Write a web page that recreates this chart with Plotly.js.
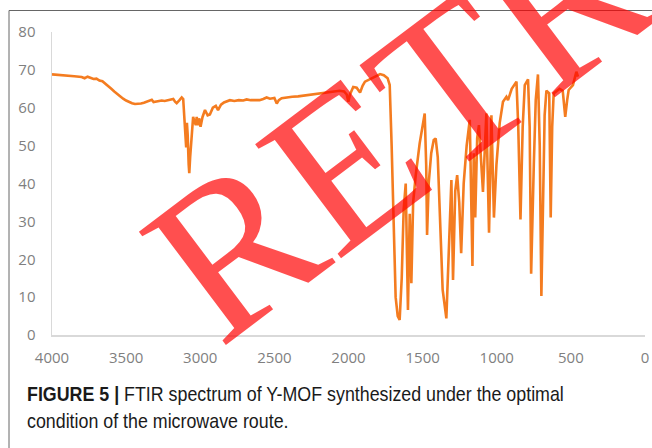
<!DOCTYPE html>
<html>
<head>
<meta charset="utf-8">
<script src="https://cdn.plot.ly/plotly-3.0.1.min.js"></script>
<style>
  html, body { margin: 0; padding: 0; background: #ffffff; }
  #chart { width: 652px; height: 448px; }
</style>
</head>
<body>
<div id="chart"></div>
<script>
// Wavenumber (cm-1)
const wavenumber = [
  4000, 3950, 3900, 3850, 3800, 3780, 3760, 3740, 3720, 3700, 3680, 3660, 3640, 3620, 3600,
  3580, 3560, 3540, 3520, 3500, 3480, 3460, 3440, 3420, 3400, 3380, 3360, 3340, 3327, 3315,
  3300, 3280, 3260, 3240, 3220, 3200, 3182, 3170, 3159, 3140, 3125, 3115, 3108, 3100, 3095,
  3090, 3085, 3078, 3074, 3068, 3062, 3055, 3048, 3040, 3030, 3024, 3015, 3008, 2998, 2985,
  2968, 2950, 2935, 2915, 2895, 2880, 2860, 2840, 2820, 2800, 2770, 2740, 2710, 2687, 2660,
  2630, 2600, 2575, 2552, 2530, 2500, 2484, 2470, 2451, 2420, 2380, 2340, 2300, 2260, 2230,
  2200, 2160, 2125, 2090, 2060, 2030, 2012, 2001, 1990, 1968, 1945, 1922, 1905, 1889, 1860,
  1821, 1800, 1787, 1762, 1736, 1722, 1709, 1695, 1682, 1668, 1655, 1641, 1628, 1614, 1599,
  1587, 1576, 1564, 1547, 1520, 1500, 1486, 1476, 1470, 1459, 1442, 1425, 1412, 1398, 1381,
  1365, 1340, 1324, 1306, 1295, 1280, 1267, 1253, 1240, 1223, 1203, 1182, 1164, 1155, 1145,
  1132, 1120, 1093, 1070, 1052, 1036, 1019, 1002, 980, 958, 935, 924, 899, 867, 855,
  840, 825, 811, 789, 778, 768, 750, 737, 722, 710, 699, 687, 677, 665, 646,
  636, 626, 616, 576, 555, 538, 525, 515, 486, 463, 452
];
// Transmittance (%)
const transmittance = [
  68.8, 68.7, 68.5, 68.3, 68.1, 67.8, 68.2, 67.8, 67.6, 67.7, 67.2, 67.0, 66.4, 65.7, 65.0,
  64.3, 63.6, 63.0, 62.4, 61.9, 61.5, 61.2, 61.0, 61.0, 61.1, 61.3, 61.6, 61.9, 62.1, 61.5,
  61.6, 61.7, 61.9, 61.8, 62.0, 62.1, 62.3, 61.6, 61.2, 62.0, 62.7, 62.3, 58.0, 50.0, 49.5,
  56.0, 53.0, 45.0, 42.7, 47.0, 50.7, 55.0, 57.6, 56.5, 55.4, 57.6, 55.4, 57.2, 55.0, 57.5,
  59.4, 58.0, 58.2, 60.0, 60.5, 59.4, 60.8, 61.4, 61.7, 62.0, 61.8, 62.0, 61.9, 62.2, 62.0,
  62.1, 62.0, 62.3, 62.7, 62.4, 62.6, 61.1, 62.0, 62.5, 62.7, 62.9, 63.0, 63.2, 63.4, 63.6,
  63.7, 64.0, 64.2, 64.4, 64.5, 64.3, 63.5, 61.6, 63.5, 65.5, 65.3, 64.0, 65.8, 66.9, 67.4,
  68.2, 68.6, 68.9, 68.6, 67.8, 66.0, 50.0, 25.0, 10.0, 5.0, 4.0, 15.0, 33.0, 40.0, 6.6,
  32.0, 13.7, 35.0, 42.0, 50.6, 55.0, 58.5, 45.0, 26.4, 40.0, 48.0, 51.5, 51.9, 47.0, 30.0,
  12.0, 4.4, 20.0, 40.9, 14.5, 38.0, 42.2, 35.0, 21.6, 40.0, 50.0, 56.8, 18.2, 48.0, 31.0,
  52.0, 55.4, 37.8, 58.5, 27.0, 58.0, 31.0, 45.0, 56.0, 61.6, 62.9, 62.0, 65.0, 66.9, 55.0,
  30.5, 55.0, 66.0, 67.5, 55.0, 16.2, 45.0, 62.0, 68.8, 50.0, 10.3, 40.0, 58.0, 64.5, 63.8,
  31.0, 55.0, 63.8, 65.0, 64.5, 57.6, 62.0, 64.7, 66.0, 69.5, 68.2
];
const xTicks = [4000, 3500, 3000, 2500, 2000, 1500, 1000, 500, 0];
const yTicks = [0, 10, 20, 30, 40, 50, 60, 70, 80];
const watermarkText = "RETRACTED";
const captionBold = "FIGURE 5 |";
const captionLine1 = " FTIR spectrum of Y-MOF synthesized under the optimal";
const captionLine2 = "condition of the microwave route.";

const W = 652, H = 448;
const L = 52, R = 645, T = 32, B = 335;
const px = (x) => (x - L) / (R - L);
const py = (y) => (B - y) / (B - T);

const trace = {
  x: wavenumber,
  y: transmittance,
  type: 'scatter',
  mode: 'lines',
  line: { color: '#f47c20', width: 2.6 },
  hoverinfo: 'skip'
};

const tickFont = { family: 'Open Sans, Liberation Sans, sans-serif', size: 15, color: '#7f7f7f' };
const capFont = { family: 'Liberation Sans, Arial, sans-serif', size: 20, color: '#1a1a1a' };

const layout = {
  width: W, height: H,
  margin: { l: L, r: W - R, t: T, b: H - B, pad: 0 },
  paper_bgcolor: '#ffffff',
  plot_bgcolor: '#ffffff',
  showlegend: false,
  xaxis: {
    range: [4000, 0],
    tickmode: 'array', tickvals: xTicks, ticktext: xTicks.map(String),
    showgrid: false, zeroline: false,
    showline: true, linecolor: '#d9d9d9', linewidth: 1.5,
    ticks: '', tickfont: tickFont, ticklabelstandoff: 8
  },
  yaxis: {
    range: [0, 80],
    tickmode: 'array', tickvals: yTicks, ticktext: yTicks.map(String),
    showgrid: false, zeroline: false,
    showline: true, linecolor: '#d9d9d9', linewidth: 1.5,
    ticks: '', tickfont: tickFont, ticklabelstandoff: 12
  },
  shapes: [
    { type: 'line', xref: 'paper', yref: 'paper', x0: px(9), x1: px(9), y0: py(10.5), y1: py(460), line: { color: '#666666', width: 1 } },
    { type: 'line', xref: 'paper', yref: 'paper', x0: px(9), x1: px(660), y0: py(10.5), y1: py(10.5), line: { color: '#666666', width: 1 } }
  ],
  annotations: [
    {
      xref: 'paper', yref: 'paper', x: px(688), y: py(-96),
      xanchor: 'center', yanchor: 'middle', showarrow: false,
      text: watermarkText, textangle: -37,
      font: { family: 'Liberation Serif, Times New Roman, serif', size: 218, color: 'rgba(255,0,0,0.69)' }
    },
    {
      xref: 'paper', yref: 'paper', x: px(25), y: py(394),
      xanchor: 'left', yanchor: 'middle', showarrow: false, align: 'left',
      text: '<b>' + captionBold + '</b>' + captionLine1, font: capFont
    },
    {
      xref: 'paper', yref: 'paper', x: px(25), y: py(421),
      xanchor: 'left', yanchor: 'middle', showarrow: false, align: 'left',
      text: captionLine2, font: capFont
    }
  ]
};

Plotly.newPlot('chart', [trace], layout, { staticPlot: true, displayModeBar: false }).then(function (gd) {
  // Condense caption text horizontally to mimic the narrow caption face
  const anns = gd.querySelectorAll('.annotation');
  const t1 = anns[1] && anns[1].querySelector('text.annotation-text');
  if (!t1) return;
  const w1 = t1.getBBox().width;
  const s = (562 - 25) / w1;
  [1, 2].forEach(function (i) {
    const t = anns[i] && anns[i].querySelector('text.annotation-text');
    if (!t) return;
    t.style.transformBox = 'fill-box';
    t.style.transformOrigin = '0% 50%';
    t.style.transform = 'scaleX(' + s + ')';
  });
});
</script>
</body>
</html>
